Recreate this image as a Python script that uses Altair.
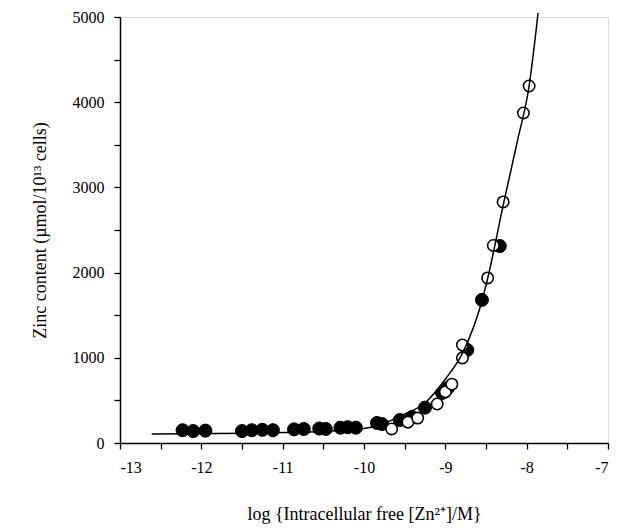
import altair as alt
import pandas as pd

# Filled circles
filled_x = [-12.23, -12.10, -11.95, -11.50, -11.38, -11.25, -11.12, -10.86, -10.74,
            -10.55, -10.47, -10.29, -10.20, -10.10, -9.84, -9.78, -9.56, -9.41,
            -9.25, -9.04, -8.97, -8.73, -8.55, -8.33]
filled_y = [150, 140, 145, 140, 150, 155, 150, 160, 165, 170, 165, 180, 185, 180,
            235, 223, 270, 305, 415, 587, 645, 1092, 1680, 2312]

# Open circles
open_x = [-9.66, -9.46, -9.34, -9.10, -9.00, -8.92, -8.79, -8.79, -8.48, -8.41,
          -8.29, -8.04, -7.97]
open_y = [165, 245, 293, 458, 600, 690, 1150, 998, 1937, 2318, 2829, 3873, 4190]

# Fitted curve
curve_x = [-12.61, -11.4, -10.2, -9.8, -9.52, -9.25, -8.98, -8.82, -8.73, -8.57,
           -8.48, -8.28, -8.11, -7.97, -7.86]
curve_y = [105, 115, 150, 215, 330, 470, 775, 1000, 1175, 1600, 1930, 2830, 3560,
           4190, 5047]

x_ticks = [-13, -12.5, -12, -11.5, -11, -10.5, -10, -9.5, -9, -8.5, -8, -7.5, -7]
y_ticks = [0, 500, 1000, 1500, 2000, 2500, 3000, 3500, 4000, 4500, 5000]

filled_df = pd.DataFrame({"x": filled_x, "y": filled_y})
open_df = pd.DataFrame({"x": open_x, "y": open_y})
curve_df = pd.DataFrame({"x": curve_x, "y": curve_y})

FONT = "Liberation Serif"

xs = alt.Scale(domain=[-13, -7], nice=False, zero=False)
ys = alt.Scale(domain=[0, 5000], nice=False, clamp=False)

x_axis = alt.Axis(
    values=x_ticks,
    labelExpr="datum.value % 1 == 0 ? '' + datum.value : ''",
    title="log {Intracellular free [Zn²⁺]/M}",
    titleY=62, titleBaseline="top",
    grid=False, domainColor="black", domainWidth=1.5,
    tickColor="black", tickWidth=1.3, tickSize=6,
    labelPadding=10, labelFontSize=16, labelFont=FONT, labelColor="black",
    titleFont=FONT, titleFontSize=18, titleFontWeight="normal", titleColor="black",
)
y_axis = alt.Axis(
    values=y_ticks,
    labelExpr="datum.value % 1000 == 0 ? '' + datum.value : ''",
    title="Zinc content (µmol/10¹³ cells)",
    titleX=-80, titleBaseline="middle",
    grid=False, domainColor="black", domainWidth=1.5,
    tickColor="black", tickWidth=1.3, tickSize=6,
    labelPadding=10, labelFontSize=16, labelFont=FONT, labelColor="black",
    titleFont=FONT, titleFontSize=18, titleFontWeight="normal", titleColor="black",
)

filled = alt.Chart(filled_df).mark_point(
    shape="circle", filled=True, size=170, fill="black", stroke="black",
    strokeWidth=1, opacity=1
).encode(x=alt.X("x:Q", scale=xs, axis=x_axis), y=alt.Y("y:Q", scale=ys, axis=y_axis))

opened = alt.Chart(open_df).mark_point(
    shape="circle", filled=True, size=130, fill="white", stroke="black",
    strokeWidth=1.6, opacity=1
).encode(x=alt.X("x:Q", scale=xs), y=alt.Y("y:Q", scale=ys))

curve = alt.Chart(curve_df).mark_line(
    color="black", strokeWidth=1.5, interpolate="monotone", clip=False
).encode(x=alt.X("x:Q", scale=xs), y=alt.Y("y:Q", scale=ys))

chart = alt.layer(filled, opened, curve).properties(
    width=488, height=426,
    autosize=alt.AutoSizeParams(type="none"),
    padding={"left": 120, "top": 17, "right": 10, "bottom": 86},
    background="white",
).configure_view(stroke=None).configure_axis(
    labelFont=FONT, titleFont=FONT
).configure(font=FONT)

chart.save("out.html", embed_options={"renderer": "svg", "actions": False})
